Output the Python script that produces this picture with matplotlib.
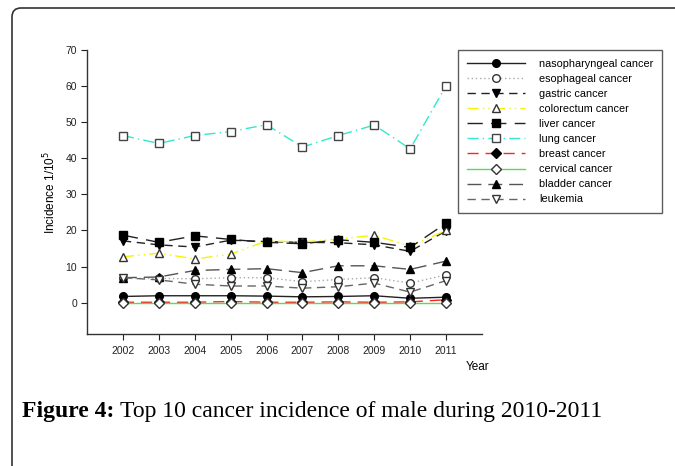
import matplotlib
matplotlib.use("Agg")
import matplotlib.pyplot as plt
from matplotlib.patches import FancyBboxPatch

years = [2002, 2003, 2004, 2005, 2006, 2007, 2008, 2009, 2010, 2011]

nasopharyngeal = [1.7, 1.9, 1.9, 1.9, 1.8, 1.6, 1.7, 1.9, 1.2, 1.5]
esophageal = [6.7, 6.7, 6.6, 6.9, 6.9, 5.8, 6.4, 6.9, 5.4, 7.7]
gastric = [17.1, 16.0, 15.4, 17.3, 16.9, 16.7, 16.6, 16.0, 14.2, 19.9]
colorectum = [12.7, 13.7, 12.1, 13.4, 17.1, 16.8, 17.6, 18.7, 15.6, 20.0]
liver = [18.7, 16.7, 18.5, 17.5, 16.7, 16.3, 17.4, 16.7, 15.3, 22.0]
lung = [46.3, 44.1, 46.3, 47.4, 49.3, 43.1, 46.3, 49.2, 42.6, 60.1]
breast = [0.1, 0.1, 0.1, 0.3, 0.1, 0.1, 0.2, 0.1, 0.2, 0.8]
cervical = [0.0, 0.0, 0.0, 0.0, 0.0, 0.0, 0.0, 0.0, 0.0, 0.0]
bladder = [6.9, 7.1, 8.9, 9.2, 9.4, 8.3, 10.2, 10.2, 9.2, 11.5]
leukemia = [6.9, 6.3, 5.1, 4.6, 4.6, 4.0, 4.4, 5.4, 2.9, 6.1]

labels = ["nasopharyngeal cancer", "esophageal cancer", "gastric cancer",
          "colorectum cancer", "liver cancer", "lung cancer", "breast cancer",
          "cervical cancer", "bladder cancer", "leukemia"]
series = [nasopharyngeal, esophageal, gastric, colorectum, liver, lung,
          breast, cervical, bladder, leukemia]

styles = [
    dict(color="#222222", ls="-", marker="o", mfc="black", mec="black"),
    dict(color="#aaaaaa", ls=(0, (1, 2)), marker="o", mfc="white", mec="#333333"),
    dict(color="#222222", ls=(0, (6, 4)), marker="v", mfc="black", mec="black"),
    dict(color="#f5f500", ls=(0, (8, 3, 1, 3, 1, 3)), marker="^", mfc="white", mec="#333333"),
    dict(color="#222222", ls=(0, (11, 6)), marker="s", mfc="black", mec="black"),
    dict(color="#33e8cc", ls=(0, (8, 3, 1, 3)), marker="s", mfc="white", mec="#444444"),
    dict(color="#ff2222", ls=(0, (8, 5)), marker="D", mfc="black", mec="black"),
    dict(color="#55dd55", ls="-", marker="D", mfc="white", mec="#333333"),
    dict(color="#555555", ls=(0, (10, 5)), marker="^", mfc="black", mec="black"),
    dict(color="#666666", ls=(0, (6, 4)), marker="v", mfc="white", mec="#333333"),
]

W, H = 675, 466
fig = plt.figure(figsize=(W / 100, H / 100), dpi=100)
plt.rcParams['font.family'] = ['Liberation Sans', 'DejaVu Sans']

ax = fig.add_axes([87 / W, 1 - 334 / H, (482 - 87) / W, (334 - 50) / H])

handles = []
for lab, vals, st in zip(labels, series, styles):
    ms = 5.5 if st["marker"] != "D" else 5
    h, = ax.plot(years, vals, color=st["color"], linestyle=st["ls"], lw=1.0,
                 marker=st["marker"], markersize=ms, markerfacecolor=st["mfc"],
                 markeredgecolor=st["mec"], markeredgewidth=1.0, label=lab,
                 clip_on=False)
    handles.append(h)

ax.set_xlim(2001, 2012)
ax.set_ylim(-8.7, 70)
ax.set_xticks(years)
ax.set_xticklabels([str(y) for y in years])
ax.set_yticks([0, 10, 20, 30, 40, 50, 60, 70])
ax.spines['top'].set_visible(False)
ax.spines['right'].set_visible(False)
for s in ['left', 'bottom']:
    ax.spines[s].set_linewidth(1.0)
    ax.spines[s].set_color('#333333')
ax.tick_params(direction='out', length=4, width=0.8, labelsize=7.5,
               colors='#222222')
ax.tick_params(axis='y', pad=3)
ax.tick_params(axis='x', pad=5)

ax.set_ylabel("Incidence 1/10$^5$", fontsize=8.5, labelpad=5)
fig.text(478 / W, 1 - 367 / H, "Year", fontsize=8.5, ha='center', va='center')

leg = ax.legend(handles=handles, loc='upper left',
                bbox_to_anchor=(458 / W, 1 - 50 / H), bbox_transform=fig.transFigure,
                borderaxespad=0, fancybox=False, frameon=True, fontsize=7.8,
                handlelength=5.4, handletextpad=1.3, labelspacing=0.47,
                borderpad=0.8)
leg.get_frame().set_edgecolor('#333333')
leg.get_frame().set_linewidth(1.0)

serif = ['Liberation Serif', 'DejaVu Serif']
t1 = fig.text(22 / W, 1 - 412 / H, "Figure 4:", fontsize=17, fontweight='bold',
              family=serif, ha='left', va='center')
fig.canvas.draw()
bb = t1.get_window_extent()
fig.text((bb.x1 + 6) / W, 1 - 412 / H, "Top 10 cancer incidence of male during 2010-2011",
         fontsize=17, family=serif, ha='left', va='center')

frame = FancyBboxPatch((0.12, -0.5), 7.5, 4.58 + 0.5, boxstyle="round,pad=0,rounding_size=0.09",
                       transform=fig.dpi_scale_trans, facecolor='none',
                       edgecolor='#333333', linewidth=1.2, clip_on=False)
fig.patches.append(frame)

fig.savefig("out.png", dpi=100)
